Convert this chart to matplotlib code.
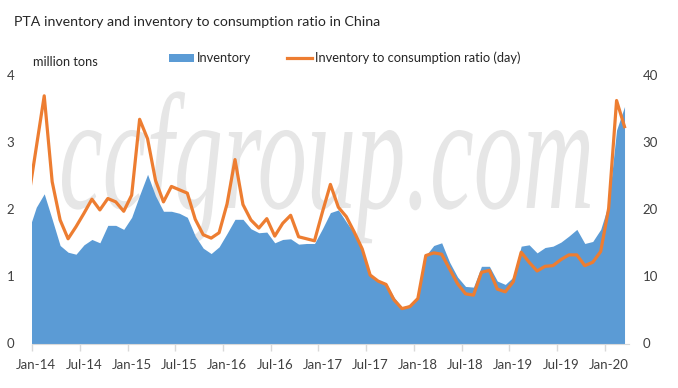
import numpy as np
import matplotlib
matplotlib.use("Agg")
import matplotlib.pyplot as plt
from matplotlib.textpath import TextPath
from matplotlib.patches import PathPatch, Patch
from matplotlib.lines import Line2D
from matplotlib.font_manager import FontProperties
from matplotlib.transforms import Affine2D

# monthly data, Dec-13 .. Mar-20 (Dec-13 only shows as the clipped left edge)
inventory = [1.67,
             2.03, 2.23, 1.85, 1.46, 1.36, 1.33, 1.47, 1.55, 1.50, 1.76, 1.76, 1.70,   # 2014
             1.88, 2.21, 2.52, 2.20, 1.97, 1.97, 1.94, 1.88, 1.60, 1.42, 1.34, 1.44,   # 2015
             1.64, 1.85, 1.85, 1.71, 1.65, 1.66, 1.50, 1.55, 1.56, 1.48, 1.49, 1.49,   # 2016
             1.71, 1.95, 1.99, 1.81, 1.64, 1.39, 1.01, 0.94, 0.90, 0.69, 0.54, 0.58,   # 2017
             0.69, 1.31, 1.46, 1.50, 1.21, 0.99, 0.85, 0.84, 1.15, 1.15, 0.93, 0.88,   # 2018
             0.99, 1.45, 1.47, 1.35, 1.43, 1.45, 1.51, 1.60, 1.70, 1.49, 1.52, 1.70,   # 2019
             2.08, 3.18, 3.53]                                                         # 2020
ratio_days = [21.5,
              29.2, 36.9, 24.1, 18.4, 15.6, 17.4, 19.4, 21.5, 19.9, 21.6, 21.1, 19.7,
              22.1, 33.4, 30.5, 24.3, 21.1, 23.4, 22.9, 22.4, 18.5, 16.2, 15.7, 16.5,
              20.8, 27.4, 20.7, 18.4, 17.2, 18.6, 16.0, 17.9, 19.1, 15.9, 15.6, 15.3,
              19.6, 23.7, 20.3, 18.9, 16.6, 14.1, 10.2, 9.3, 8.8, 6.5, 5.2, 5.5,
              6.7, 13.1, 13.5, 13.3, 11.1, 8.9, 7.4, 7.2, 10.6, 10.9, 8.1, 7.7,
              9.2, 13.6, 12.1, 10.8, 11.5, 11.6, 12.5, 13.2, 13.2, 11.6, 12.1, 13.7,
              20.1, 36.2, 32.3]
tick_labels = ['Jan-14', 'Jul-14', 'Jan-15', 'Jul-15', 'Jan-16', 'Jul-16', 'Jan-17',
               'Jul-17', 'Jan-18', 'Jul-18', 'Jan-19', 'Jul-19', 'Jan-20']

BLUE = '#5B9BD5'
ORANGE = '#ED7D31'
TXT = '#404040'

plt.rcParams['font.family'] = ['Lato', 'DejaVu Sans']

# x position of each month (points sit mid-month, Jan-14 starts at 0)
x = np.arange(len(inventory)) - 1 + 0.5

W, H = 678, 388
fig = plt.figure(figsize=(W / 100, H / 100), dpi=100)
ax = fig.add_axes([32.3 / W, 1 - 343.5 / H, 596.2 / W, (343.5 - 75) / H])
ax2 = ax.twinx()

# watermark behind the data
fp = FontProperties(family='Liberation Serif', style='italic')
tp = TextPath((0, 0), 'ccfgroup.com', size=1, prop=fp)
xh = TextPath((0, 0), 'x', size=1, prop=fp).get_extents().height
ext = tp.get_extents()
sx = (590 - 62) / ext.width
sy = 76 / xh
tr = Affine2D().translate(-ext.x0, 0).scale(sx / W, sy / H).translate(62 / W, (H - 208) / H)
wm = PathPatch(tp, transform=tr + fig.transFigure, color='#e6e6e6', lw=0, zorder=0.5, clip_on=False)
ax.add_patch(wm)

ax.fill_between(x, inventory, color=BLUE, lw=0, zorder=1)
ax2.plot(x, ratio_days, color=ORANGE, lw=2.3, solid_joinstyle='round', zorder=2)

ax.set_xlim(0, 75)
ax.set_ylim(0, 4)
ax2.set_ylim(0, 40)

ax.set_xticks(np.arange(0, 73, 6))
ax.set_xticklabels([])
ax.set_xticks(np.arange(0, 73, 6) + 0.5, minor=True)
ax.set_xticklabels(tick_labels, minor=True)
ax.tick_params(axis='x', which='major', length=5, color='#d9d9d9', width=1)
ax.tick_params(axis='x', which='minor', length=0, pad=11, labelsize=9.5, labelcolor=TXT)

ax.set_yticks([0, 1, 2, 3, 4])
ax.tick_params(axis='y', length=0, pad=13, labelsize=9.5, labelcolor=TXT)
ax2.set_yticks([0, 10, 20, 30, 40])
ax2.tick_params(axis='y', length=0, pad=10, labelsize=9.5, labelcolor=TXT)

for a in (ax, ax2):
    for s in ('top', 'left', 'right'):
        a.spines[s].set_visible(False)
    a.spines['bottom'].set_color('#d9d9d9')
ax2.spines['bottom'].set_visible(False)

fig.text(14 / W, 1 - 22 / H, 'PTA inventory and inventory to consumption ratio in China',
         fontsize=10.2, color='#262626', va='center', ha='left')
fig.text(33 / W, 1 - 62 / H, 'million tons', fontsize=9.2, color='#262626', va='center', ha='left')

handles = [Patch(facecolor=BLUE, edgecolor='none'),
           Line2D([0], [0], color=ORANGE, lw=2.3)]
fig.legend(handles, ['Inventory', 'Inventory to consumption ratio (day)'],
           loc='center', bbox_to_anchor=(345 / W, 1 - 58 / H), ncol=2, frameon=False,
           fontsize=9.3, handlelength=1.9, handleheight=0.6, handletextpad=0.25,
           columnspacing=2.8, labelcolor='#262626')

fig.savefig('out.png', dpi=100)
